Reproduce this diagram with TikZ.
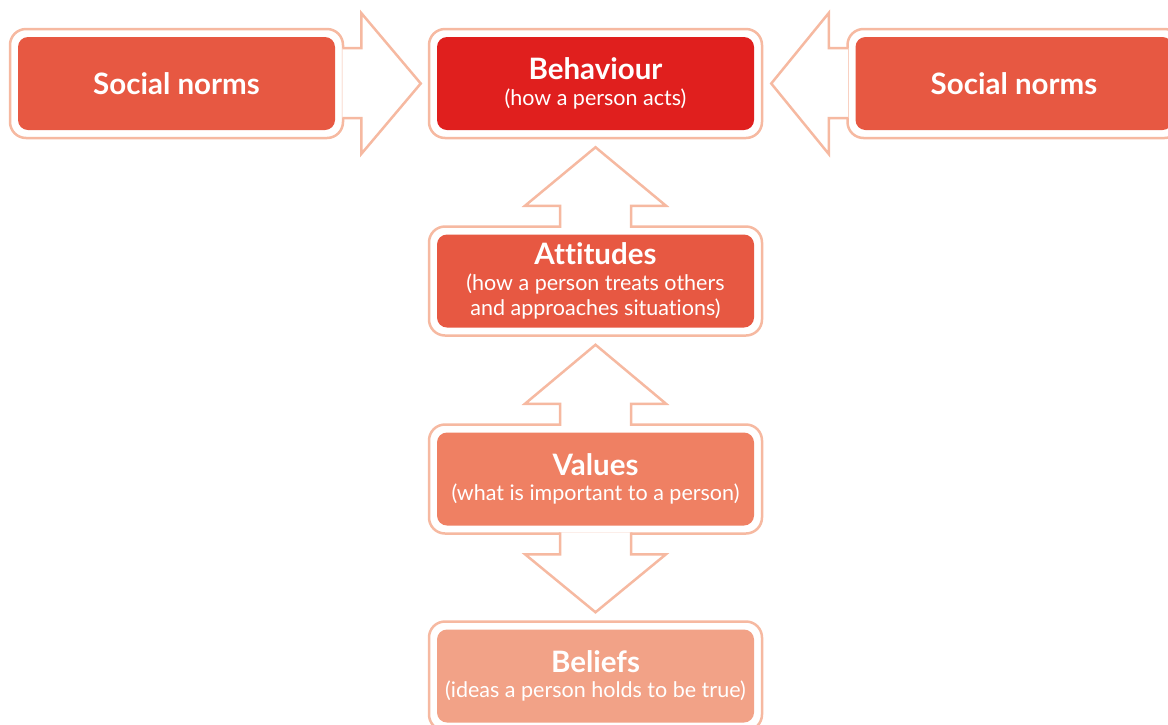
\documentclass[tikz,border=0pt]{standalone}
\usepackage{fontspec}
\setmainfont[Ligatures={NoCommon,NoRare}]{Lato}
\usetikzlibrary{calc}
\definecolor{framepink}{HTML}{F6B9A1}
\definecolor{normred}{HTML}{E75842}
\definecolor{behred}{HTML}{E01F1E}
\definecolor{valred}{HTML}{EF8063}
\definecolor{belred}{HTML}{F2A287}
\tikzset{
  frame/.style={draw=framepink, line width=2.5pt, fill=white, rounded corners=16pt,
    minimum width=333pt, minimum height=109pt, inner sep=0pt},
  inbox/.style={rounded corners=10pt, minimum width=317pt, minimum height=93pt,
    inner sep=0pt, text=white, align=center, font=\fontsize{21.5}{25.5}\selectfont},
  arrowline/.style={draw=framepink, line width=2.5pt, fill=white, line join=miter},
}
\newcommand{\boxtitle}[1]{{\fontsize{29.5}{29}\selectfont\bfseries #1}}
\begin{document}
\begin{tikzpicture}[x=1pt, y=-1pt]
\clip[use as bounding box] (0,0) rectangle (1168,724);
% outer frames
\node[frame] (snlf) at (176.5,83.5) {};
\node[frame] (behf) at (595.5,83.5) {};
\node[frame] (snrf) at (1014,83.5) {};
\node[frame] (attf) at (595.5,281) {};
\node[frame] (valf) at (595.5,479) {};
\node[frame] (belf) at (595.5,676) {};
% block arrows
\filldraw[arrowline] ($(snlf.east)+(-2,-35.5)$) -- ++(19,0) -- ++(0,-35)
  -- ($(behf.west)+(-7,0)$) -- ($(snlf.east)+(17,70.5)$) -- ++(0,-36) -- ++(-19,0);
\filldraw[arrowline] ($(snrf.west)+(2,-35.5)$) -- ++(-19.5,0) -- ++(0,-35)
  -- ($(behf.east)+(8,0)$) -- ($(snrf.west)+(-17.5,70.5)$) -- ++(0,-36) -- ++(19.5,0);
\foreach \a/\b in {behf/attf, attf/valf}
  \filldraw[arrowline] ($(\b.north)+(-35.5,2.5)$) -- ++(0,-22) -- ++(-35,0)
    -- ($(\a.south)+(0,8)$) -- ($(\b.north)+(70.5,-19.5)$) -- ++(-35,0) -- ++(0,22);
\filldraw[arrowline] ($(valf.south)+(-35.5,-2.5)$) -- ++(0,22) -- ++(-35,0)
  -- ($(belf.north)+(0,-8)$) -- ($(valf.south)+(70.5,19.5)$) -- ++(-35,0) -- ++(0,-22);
% inner boxes
\node[inbox, fill=normred] (snl) at (snlf) {\boxtitle{Social norms}};
\node[inbox, fill=behred] (beh) at (behf) {\boxtitle{Behaviour}\\(how a person acts)};
\node[inbox, fill=normred] (snr) at (snrf) {\boxtitle{Social norms}};
\node[inbox, fill=normred] (att) at (attf) {\boxtitle{Attitudes}\\(how a person treats others\\and approaches situations)};
\node[inbox, fill=valred] (val) at (valf) {\boxtitle{Values}\\(what is important to a person)};
\node[inbox, fill=belred] (bel) at (belf) {\boxtitle{Beliefs}\\(ideas a person holds to be true)};
\end{tikzpicture}
\end{document}
